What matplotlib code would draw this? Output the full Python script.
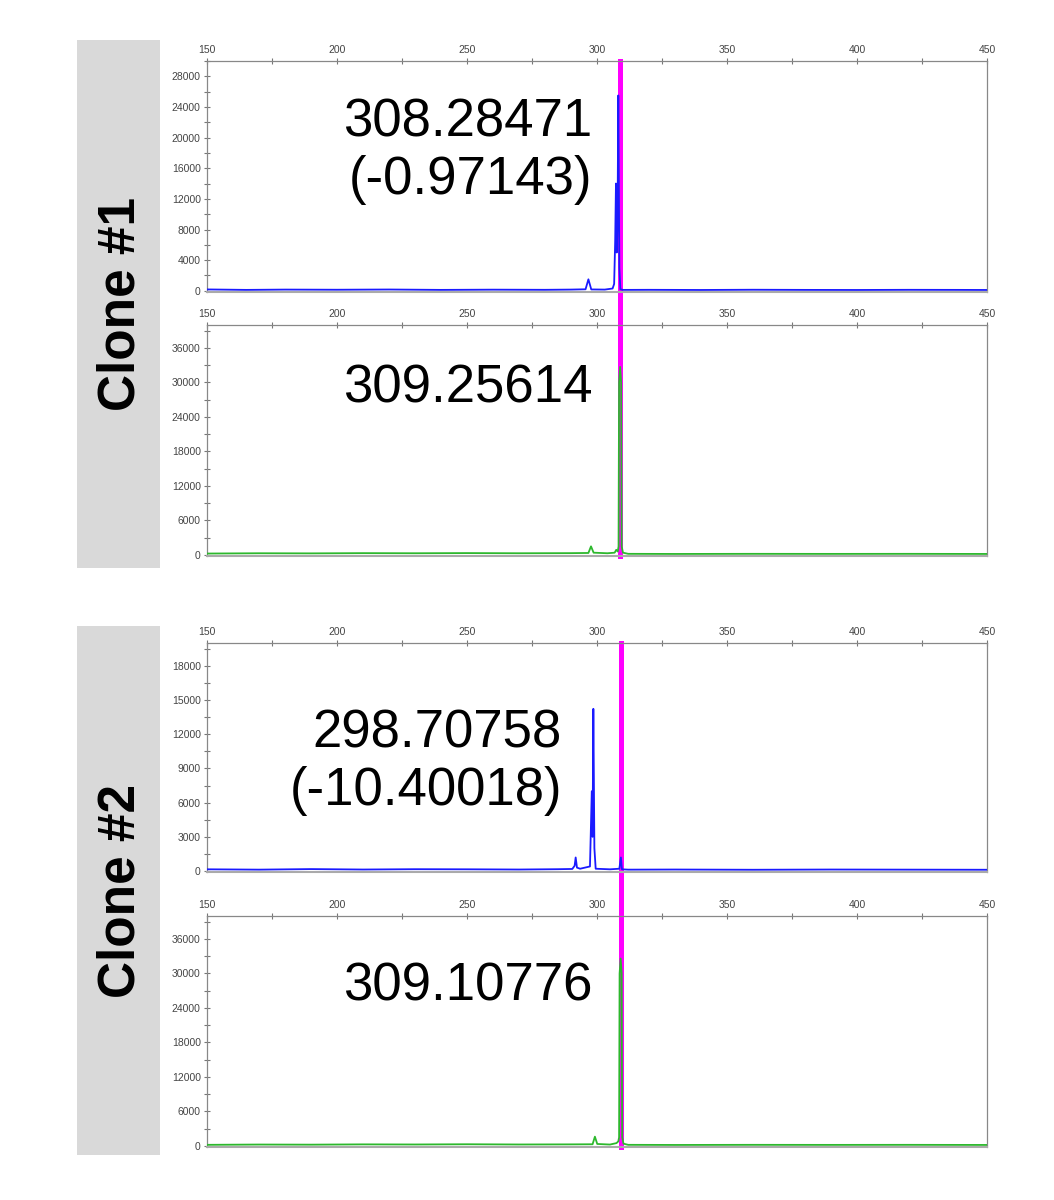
import matplotlib
matplotlib.use("Agg")
import matplotlib.pyplot as plt
from matplotlib.patches import Rectangle
from matplotlib.lines import Line2D
from matplotlib.transforms import blended_transform_factory
from matplotlib.ticker import MultipleLocator

plt.rcParams['font.family'] = ['Liberation Sans', 'DejaVu Sans']

# fragment size (bp) / fluorescence (RFU) points
b1_size = [150, 165, 180, 200, 220, 240, 260, 280, 290, 295.6, 296.7, 297.8, 303, 306.0, 306.6,
           307.0, 307.3, 307.6, 307.9, 308.2, 308.6, 309.0, 310, 320, 340, 360, 380, 400, 420, 440, 450]
b1_rfu = [180, 120, 160, 140, 170, 120, 150, 130, 160, 200, 1500, 180, 160, 300, 900,
          6500, 14000, 5000, 9000, 25500, 3000, 200, 120, 130, 110, 140, 120, 110, 130, 120, 110]

g1_size = [150, 170, 190, 210, 230, 250, 270, 290, 296.7, 297.7, 298.7, 304, 306.8, 307.4, 308.0,
           308.3, 308.5, 308.9, 309.3, 309.5, 310.0, 312, 330, 360, 390, 420, 450]
g1_rfu = [250, 300, 280, 320, 300, 330, 300, 320, 350, 1500, 400, 300, 400, 900, 600,
          1500, 30000, 32700, 30000, 1500, 400, 200, 180, 200, 190, 200, 180]

b2_size = [150, 170, 190, 210, 230, 250, 270, 285, 290.5, 291.4, 291.8, 292.3, 293.5, 297.3, 298.0,
           298.3, 298.6, 299.0, 299.5, 305, 308.6, 309.2, 309.6, 312, 330, 360, 390, 420, 450]
b2_rfu = [150, 120, 170, 130, 160, 150, 130, 160, 180, 460, 1190, 300, 200, 400, 7000,
          3000, 14230, 2000, 200, 150, 200, 1190, 150, 120, 130, 110, 130, 120, 110]

g2_size = [150, 170, 190, 210, 230, 250, 270, 290, 298.3, 299.2, 300.1, 305, 307.5, 308.2,
           308.5, 308.7, 309.1, 309.5, 309.7, 310.2, 312, 330, 360, 390, 420, 450]
g2_rfu = [200, 250, 230, 280, 260, 300, 260, 280, 300, 1620, 350, 250, 500, 800,
          1500, 30000, 32600, 30000, 1500, 400, 200, 180, 200, 190, 200, 180]

marker_pos = [308.8, 309.2]   # magenta reference lines, clone 1 / clone 2
labels = ["308.28471\n(-0.97143)", "309.25614", "298.70758\n(-10.40018)", "309.10776"]
clones = ["Clone #1", "Clone #2"]

fig = plt.figure(figsize=(10.54, 12), dpi=100)

# axes layout (left, bottom, width, height)
rects = [(0.1964, 0.7567, 0.740, 0.1925),
         (0.1964, 0.5367, 0.740, 0.1925),
         (0.1964, 0.2733, 0.740, 0.1908),
         (0.1964, 0.0442, 0.740, 0.1925)]
traces = [(b1_size, b1_rfu, '#1a1aff'), (g1_size, g1_rfu, '#2db82d'),
          (b2_size, b2_rfu, '#1a1aff'), (g2_size, g2_rfu, '#2db82d')]
ylims = [(-150, 30000), (-170, 40000), (-90, 20000), (-170, 40000)]
ysteps = [4000, 6000, 3000, 6000]
label_x = [298.1, 298.1, 286.5, 298.1]
label_y = [0.61, 0.727, 0.478, 0.693]

axes = []
for i in range(4):
    ax = fig.add_axes(rects[i])
    ax.set_facecolor('none')   # let the magenta marker show through behind the trace
    x, y, c = traces[i]
    ax.plot(x, y, color=c, lw=1.3, zorder=3)
    ax.set_xlim(150, 450)
    ax.set_ylim(*ylims[i])
    ax.xaxis.set_major_locator(MultipleLocator(50))
    ax.xaxis.set_minor_locator(MultipleLocator(25))
    ax.yaxis.set_major_locator(MultipleLocator(ysteps[i]))
    ax.yaxis.set_minor_locator(MultipleLocator(ysteps[i] / 2))
    ax.xaxis.tick_top()
    ax.tick_params(axis='both', which='both', direction='inout', length=5,
                   width=0.8, color='#777777', labelsize=7.5, labelcolor='#444444')
    ax.tick_params(axis='both', which='major', pad=2)
    for s in ax.spines.values():
        s.set_color('#888888')
        s.set_linewidth(0.9)
    ax.spines['bottom'].set_color('#aaaaaa')
    ax.spines['bottom'].set_linewidth(1.5)
    ax.text(label_x[i], label_y[i], labels[i], transform=ax.get_xaxis_transform(),
            ha='right', va='center', fontsize=38, linespacing=1.2, color='black')
    axes.append(ax)

# magenta marker spanning each pair of panels, drawn beneath the axes
for k in range(2):
    top_ax, bot_ax = axes[2 * k], axes[2 * k + 1]
    tr = blended_transform_factory(top_ax.transData, fig.transFigure)
    y0 = bot_ax.get_position().y0
    y1 = top_ax.get_position().y1
    fig.add_artist(Line2D([marker_pos[k], marker_pos[k]], [y0, y1], transform=tr,
                          color='#ff00ff', lw=3.6, zorder=-1))

# grey clone label boxes
box_y = [(0.5267, 0.44), (0.0375, 0.4408)]
for k in range(2):
    b0, h = box_y[k]
    fig.add_artist(Rectangle((0.0731, b0), 0.0787, h, transform=fig.transFigure,
                             facecolor='#d9d9d9', edgecolor='none', zorder=-2))
    fig.text(0.1150, b0 + h / 2, clones[k], rotation=90, ha='center', va='center',
             fontsize=37, fontweight='bold', color='black')

fig.savefig("out.png", dpi=100)
